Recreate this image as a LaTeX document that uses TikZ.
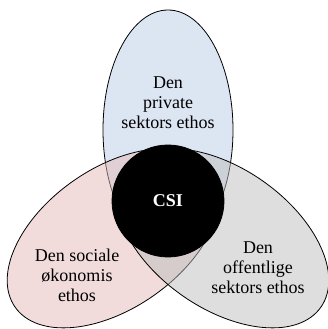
\documentclass[tikz,border=0pt]{standalone}
\usepackage{fontspec}
\setmainfont{Liberation Serif}
\definecolor{privblue}{RGB}{185,203,229}
\definecolor{socpink}{RGB}{229,185,183}
\definecolor{offgray}{RGB}{189,189,189}
\newcommand{\privc}[0]{(168, 199)}
\newcommand{\socc}[0]{(113.4, 90.7)}
\newcommand{\offc}[0]{(222.6, 90.7)}
\newcommand{\csic}[0]{(168, 128)}
\tikzset{
  ethos/.style={fill opacity=0.5, line width=0.8pt},
  ethostxt/.style={align=center, font=\fontsize{18}{20}\selectfont, inner sep=0pt}
}

\begin{document}
\begin{tikzpicture}[x=1pt, y=1pt]
\useasboundingbox (0,0) rectangle (328,329);
\filldraw [ethos, fill=privblue] \privc{} ellipse [x radius=65pt, y radius=120pt];
\filldraw [ethos, fill=socpink] \socc{} ellipse [x radius=120pt, y radius=70pt, rotate=35];
\filldraw [ethos, fill=offgray] \offc{} ellipse [x radius=120pt, y radius=70pt, rotate=-35];
\filldraw [line width=0.8pt, fill=black] \csic{} circle [radius=56pt];
\node [ethostxt] (privtxt) at (168, 226) {Den\\private\\sektors ethos};
\node [ethostxt] (soctxt) at (77, 54) {Den sociale\\økonomis\\ethos};
\node [ethostxt] (offtxt) at (258, 61) {Den\\offentlige\\sektors ethos};
\node [ethostxt, text=white, font=\fontsize{18}{20}\selectfont\bfseries] (csi) at (168, 128) {CSI};
\end{tikzpicture}
\end{document}
